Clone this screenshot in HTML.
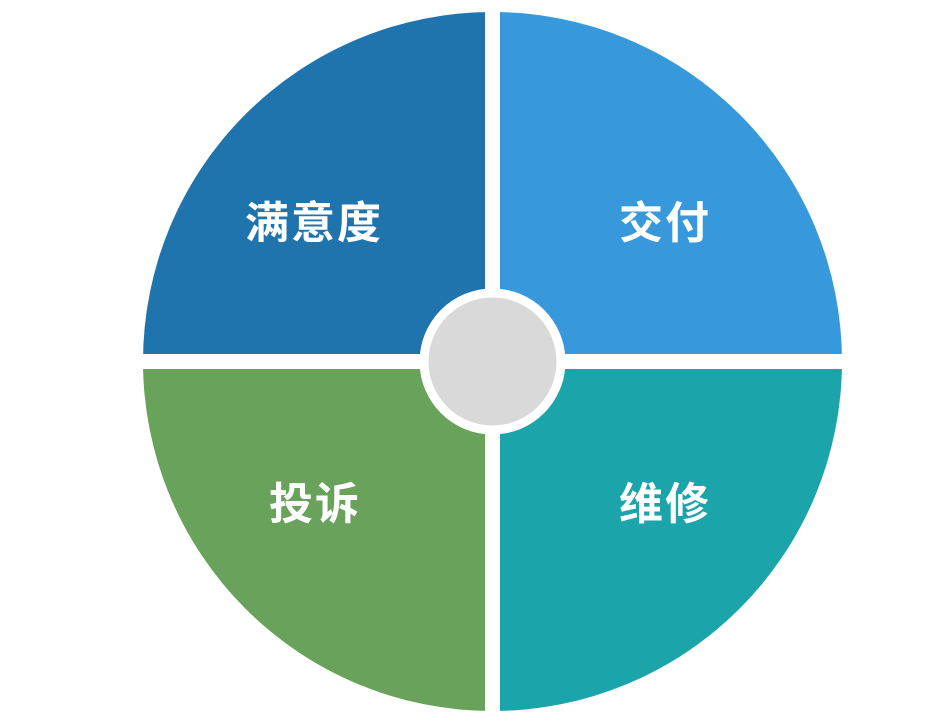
<!DOCTYPE html>
<html><head><meta charset="utf-8"><style>
html,body{margin:0;padding:0;background:#fff;width:933px;height:723px;overflow:hidden}
text{font-family:"Liberation Sans","Noto Sans CJK SC",sans-serif;font-weight:bold;fill:#fff;font-size:44px}
</style></head><body>
<svg width="933" height="723" viewBox="0 0 933 723">
<g transform="translate(492.5,361.5)">
<path d="M0,0 L-349.5,0 A349.5,349.5 0 0 1 0,-349.5 Z" fill="#2074AE"/>
<path d="M0,0 L0,-349.5 A349.5,349.5 0 0 1 349.5,0 Z" fill="#3799DB"/>
<path d="M0,0 L349.5,0 A349.5,349.5 0 0 1 0,349.5 Z" fill="#1BA4AA"/>
<path d="M0,0 L0,349.5 A349.5,349.5 0 0 1 -349.5,0 Z" fill="#69A25A"/>
<rect x="-7.5" y="-360" width="15" height="720" fill="#fff"/>
<rect x="-360" y="-7.5" width="720" height="15" fill="#fff"/>
<circle r="73" fill="#fff"/>
<circle r="64" fill="#D9D9D9"/>
</g>
<text x="314" y="238" text-anchor="middle" letter-spacing="2">满意度</text>
<text x="665" y="238" text-anchor="middle" letter-spacing="2">交付</text>
<text x="315" y="519" text-anchor="middle" letter-spacing="2">投诉</text>
<text x="665" y="519" text-anchor="middle" letter-spacing="2">维修</text>
</svg>
</body></html>
